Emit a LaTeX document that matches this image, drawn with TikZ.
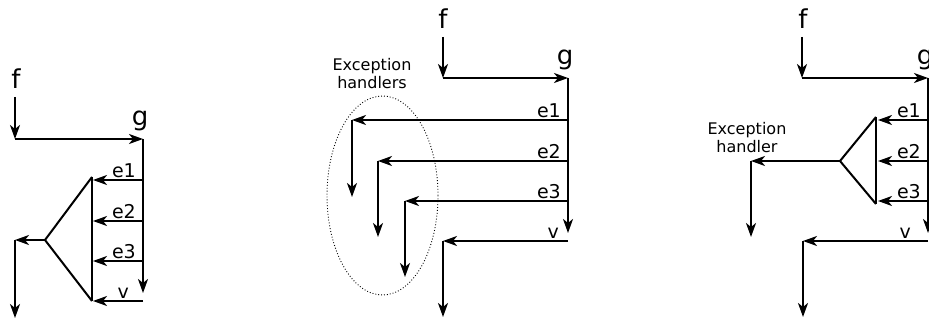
\documentclass[tikz,border=0pt]{standalone}
\usepackage{fontspec}
\setmainfont{DejaVu Sans}
\usetikzlibrary{arrows.meta}

\begin{document}
\begin{tikzpicture}[
  x=1pt, y=-1pt,
  flow/.style={line width=2pt},
  fname/.style={font=\fontsize{26}{30}\selectfont, inner sep=0pt, anchor=base},
  exc/.style={font=\fontsize{19}{22}\selectfont, inner sep=0pt, anchor=base east},
  note/.style={font=\fontsize{16}{18}\selectfont, align=center, inner sep=0pt},
  handlers/.style={draw, dotted, line width=0.9pt},
  >={Stealth[length=14pt, width=10pt, inset=4pt]}
]
  \useasboundingbox (0,0) rectangle (929,323);
  \clip (0,0) rectangle (929,323);

  % left: exceptions joined into the normal return
  \node[fname] (fnA) at (16,89) {f};
  \node[fname] (gnA) at (140,126) {g};
  \coordinate (fA) at (15,97);
  \coordinate (cA) at (15,139);
  \coordinate (gA) at (143,139);
  \coordinate (dA) at (143,293);
  \coordinate (e1A) at (143,180);  \coordinate (t1A) at (93,180);
  \coordinate (e2A) at (143,221);  \coordinate (t2A) at (93,221);
  \coordinate (e3A) at (143,261);  \coordinate (t3A) at (93,261);
  \coordinate (vA) at (143,301);   \coordinate (tvA) at (93,301);
  \coordinate (topA) at (92,177);
  \coordinate (botA) at (92,301);
  \coordinate (apexA) at (45,240);
  \coordinate (hA) at (15,240);
  \coordinate (outA) at (15,318);
  \node[exc] (l1A) at (136,177.5) {e1};
  \node[exc] (l2A) at (136,218.5) {e2};
  \node[exc] (l3A) at (136,258.5) {e3};
  \node[exc] (lvA) at (129,298.5) {v};

  \draw[->,flow] (fA) -- (cA);
  \draw[->,flow] (cA) -- (gA);
  \draw[->,flow] (gA) -- (dA);
  \draw[->,flow] (e1A) -- (t1A);
  \draw[->,flow] (e2A) -- (t2A);
  \draw[->,flow] (e3A) -- (t3A);
  \draw[->,flow] (vA) -- (tvA);
  \draw[flow] (topA) -- (botA);
  \draw[flow] (topA) -- (apexA) -- (botA);
  \draw[->,flow] (apexA) -- (hA);
  \draw[->,flow] (hA) -- (outA);

  % middle: one handler per exception
  \node[fname] (fnB) at (443,29) {f};
  \node[fname] (gnB) at (565,65) {g};
  \coordinate (fB) at (443,37);
  \coordinate (cB) at (443,78);
  \coordinate (gB) at (568,78);
  \coordinate (dB) at (568,233);
  \coordinate (e1B) at (568,120);  \coordinate (h1B) at (352,120);  \coordinate (o1B) at (352,197);
  \coordinate (e2B) at (568,161);  \coordinate (h2B) at (378,161);  \coordinate (o2B) at (378,237);
  \coordinate (e3B) at (568,201);  \coordinate (h3B) at (405,201);  \coordinate (o3B) at (405,277);
  \coordinate (vB) at (568,241);   \coordinate (hvB) at (443,241);  \coordinate (ovB) at (443,317);
  \node[exc] (l1B) at (561,117.5) {e1};
  \node[exc] (l2B) at (561,158.5) {e2};
  \node[exc] (l3B) at (561,198.5) {e3};
  \node[exc] (lvB) at (559,238.5) {v};
  \node[note] (noteB) at (372,74) {Exception\\handlers};

  \draw[->,flow] (fB) -- (cB);
  \draw[->,flow] (cB) -- (gB);
  \draw[->,flow] (gB) -- (dB);
  \draw[->,flow] (e1B) -- (h1B);
  \draw[->,flow] (h1B) -- (o1B);
  \draw[->,flow] (e2B) -- (h2B);
  \draw[->,flow] (h2B) -- (o2B);
  \draw[->,flow] (e3B) -- (h3B);
  \draw[->,flow] (h3B) -- (o3B);
  \draw[->,flow] (vB) -- (hvB);
  \draw[->,flow] (hvB) -- (ovB);
  \draw[handlers] (382.5,195.5) ellipse [x radius=55.5pt, y radius=99.5pt];

  % right: exceptions joined into one handler
  \node[fname] (fnC) at (803,29) {f};
  \node[fname] (gnC) at (925,65) {g};
  \coordinate (fC) at (802,37);
  \coordinate (cC) at (802,78);
  \coordinate (gC) at (928,78);
  \coordinate (dC) at (928,233);
  \coordinate (e1C) at (928,120);  \coordinate (t1C) at (878,120);
  \coordinate (e2C) at (928,161);  \coordinate (t2C) at (878,161);
  \coordinate (e3C) at (928,201);  \coordinate (t3C) at (878,201);
  \coordinate (topC) at (876,117);
  \coordinate (botC) at (876,204);
  \coordinate (apexC) at (840,161);
  \coordinate (hC) at (751,161);
  \coordinate (outC) at (751,237);
  \coordinate (vC) at (928,241);   \coordinate (hvC) at (803,241);  \coordinate (ovC) at (803,317);
  \node[exc] (l1C) at (921,117.5) {e1};
  \node[exc] (l2C) at (921,158.5) {e2};
  \node[exc] (l3C) at (921,198.5) {e3};
  \node[exc] (lvC) at (911,238.5) {v};
  \node[note] (noteC) at (747,138) {Exception\\handler};

  \draw[->,flow] (fC) -- (cC);
  \draw[->,flow] (cC) -- (gC);
  \draw[->,flow] (gC) -- (dC);
  \draw[->,flow] (e1C) -- (t1C);
  \draw[->,flow] (e2C) -- (t2C);
  \draw[->,flow] (e3C) -- (t3C);
  \draw[flow] (topC) -- (botC);
  \draw[flow] (topC) -- (apexC) -- (botC);
  \draw[->,flow] (apexC) -- (hC);
  \draw[->,flow] (hC) -- (outC);
  \draw[->,flow] (vC) -- (hvC);
  \draw[->,flow] (hvC) -- (ovC);
\end{tikzpicture}
\end{document}
